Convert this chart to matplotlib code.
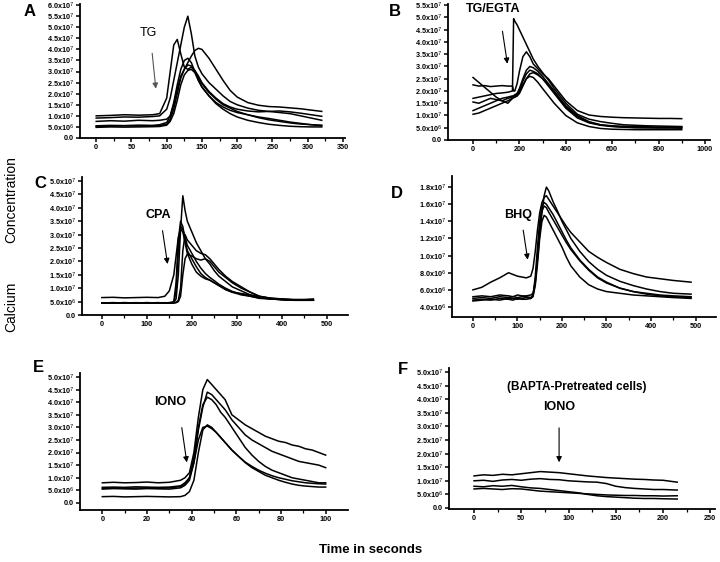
import numpy as np
import matplotlib
matplotlib.use("Agg")
import matplotlib.pyplot as plt
from matplotlib.ticker import FixedLocator, FuncFormatter

plt.rcParams['font.family'] = ['Liberation Sans', 'DejaVu Sans']

# values are in units of 1e7 (panel D in 1e6)
tA = [0, 20, 40, 60, 80, 90, 100, 105, 110, 115, 120, 125, 130, 135, 140, 145, 150,
      160, 170, 180, 190, 200, 215, 230, 245, 260, 275, 290, 305, 320]
a1 = [0.90, 0.92, 0.95, 0.94, 0.97, 1.00, 1.30, 1.80, 2.60, 3.40, 4.20, 5.00, 5.50, 4.70, 3.70,
      3.20, 2.90, 2.50, 2.20, 1.90, 1.65, 1.50, 1.35, 1.25, 1.20, 1.15, 1.10, 1.00, 0.90, 0.80]
a2 = [1.00, 1.02, 1.05, 1.03, 1.05, 1.10, 1.80, 3.00, 4.20, 4.45, 3.80, 3.20, 3.10, 3.20, 3.05,
      2.80, 2.50, 2.10, 1.80, 1.55, 1.40, 1.30, 1.22, 1.18, 1.20, 1.22, 1.18, 1.12, 1.05, 0.98]
a3 = [0.75, 0.78, 0.76, 0.80, 0.78, 0.80, 0.85, 1.00, 1.50, 2.20, 2.80, 3.10, 3.40, 3.70, 3.95,
      4.05, 4.00, 3.60, 3.10, 2.60, 2.15, 1.85, 1.60, 1.48, 1.42, 1.40, 1.36, 1.32, 1.26, 1.20]
a4 = [0.55, 0.57, 0.56, 0.58, 0.57, 0.60, 0.70, 1.00, 1.60, 2.40, 3.10, 3.50, 3.60, 3.40, 3.00,
      2.60, 2.30, 1.90, 1.60, 1.40, 1.25, 1.15, 1.05, 0.95, 0.88, 0.80, 0.72, 0.66, 0.60, 0.55]
a5 = [0.52, 0.53, 0.55, 0.54, 0.55, 0.56, 0.62, 0.85, 1.30, 2.00, 2.70, 3.10, 3.30, 3.25, 3.00,
      2.70, 2.45, 2.05, 1.75, 1.50, 1.35, 1.20, 1.05, 0.92, 0.82, 0.75, 0.68, 0.63, 0.60, 0.58]
a6 = [0.48, 0.50, 0.49, 0.50, 0.51, 0.52, 0.58, 0.75, 1.10, 1.70, 2.40, 2.85, 3.05, 3.10, 2.95,
      2.60, 2.30, 1.90, 1.55, 1.30, 1.10, 0.95, 0.80, 0.70, 0.62, 0.57, 0.53, 0.51, 0.50, 0.50]

tB = [0, 25, 50, 75, 100, 125, 150, 170, 175, 180, 190, 200, 215, 230, 245, 260, 280, 300,
      325, 350, 375, 400, 450, 500, 550, 600, 650, 700, 750, 800, 850, 900]
b1 = [1.70, 1.75, 1.80, 1.85, 1.90, 1.92, 1.95, 2.00, 4.95, 4.85, 4.70, 4.50, 4.20, 3.90, 3.60, 3.30,
      3.00, 2.75, 2.45, 2.10, 1.80, 1.50, 1.05, 0.85, 0.75, 0.68, 0.62, 0.60, 0.58, 0.57, 0.56, 0.55]
b2 = [2.25, 2.20, 2.22, 2.18, 2.20, 2.22, 2.20, 2.20, 2.00, 2.00, 2.30, 2.80, 3.40, 3.60, 3.40, 3.10,
      2.90, 2.70, 2.50, 2.20, 1.90, 1.60, 1.20, 1.02, 0.96, 0.93, 0.91, 0.90, 0.89, 0.88, 0.88, 0.87]
b3 = [2.55, 2.35, 2.15, 1.95, 1.75, 1.60, 1.50, 1.70, 1.80, 1.85, 1.90, 2.10, 2.50, 2.85, 3.00, 2.95,
      2.80, 2.60, 2.30, 2.00, 1.70, 1.40, 1.00, 0.75, 0.62, 0.56, 0.53, 0.51, 0.50, 0.50, 0.50, 0.50]
b4 = [1.20, 1.30, 1.40, 1.50, 1.60, 1.70, 1.75, 1.80, 1.80, 1.80, 1.85, 2.00, 2.40, 2.70, 2.85, 2.80,
      2.70, 2.50, 2.20, 1.90, 1.60, 1.30, 0.90, 0.70, 0.60, 0.55, 0.52, 0.50, 0.50, 0.49, 0.49, 0.48]
b5 = [1.55, 1.50, 1.60, 1.70, 1.65, 1.60, 1.70, 1.75, 1.75, 1.75, 1.80, 1.90, 2.20, 2.50, 2.70, 2.75,
      2.65, 2.50, 2.25, 1.95, 1.65, 1.35, 0.95, 0.72, 0.62, 0.58, 0.56, 0.55, 0.54, 0.53, 0.53, 0.53]
b6 = [1.05, 1.10, 1.20, 1.30, 1.40, 1.50, 1.60, 1.70, 1.72, 1.75, 1.80, 1.95, 2.25, 2.50, 2.60, 2.55,
      2.35, 2.10, 1.80, 1.50, 1.25, 1.00, 0.70, 0.55, 0.47, 0.44, 0.43, 0.42, 0.42, 0.42, 0.42, 0.42]

tC = [0, 25, 50, 75, 100, 125, 140, 150, 160, 165, 170, 175, 180, 185, 190, 200, 210, 220,
      230, 240, 250, 260, 275, 290, 310, 330, 350, 375, 400, 425, 450, 470]
c1 = [0.45, 0.45, 0.46, 0.45, 0.45, 0.46, 0.45, 0.45, 0.46, 0.60, 1.50, 3.20, 4.45, 3.90, 3.50, 3.10,
      2.70, 2.40, 2.10, 1.90, 1.65, 1.45, 1.25, 1.05, 0.90, 0.75, 0.65, 0.60, 0.58, 0.55, 0.55, 0.55]
c2 = [0.45, 0.46, 0.45, 0.45, 0.46, 0.45, 0.45, 0.46, 0.50, 1.20, 2.80, 3.50, 3.30, 2.80, 2.40, 2.10,
      1.80, 1.55, 1.40, 1.30, 1.20, 1.10, 0.95, 0.85, 0.75, 0.70, 0.62, 0.60, 0.57, 0.55, 0.55, 0.55]
c3 = [0.45, 0.45, 0.45, 0.46, 0.45, 0.45, 0.46, 0.45, 0.46, 0.90, 2.40, 3.30, 3.20, 2.90, 2.60, 2.30,
      2.00, 1.75, 1.55, 1.40, 1.28, 1.15, 1.00, 0.88, 0.78, 0.70, 0.64, 0.60, 0.57, 0.56, 0.55, 0.56]
c4 = [0.65, 0.66, 0.64, 0.65, 0.66, 0.65, 0.70, 0.90, 1.50, 2.20, 2.90, 3.20, 3.10, 2.70, 2.30, 1.90,
      1.60, 1.45, 1.35, 1.30, 1.20, 1.10, 0.95, 0.85, 0.80, 0.75, 0.68, 0.62, 0.60, 0.58, 0.58, 0.60]
c5 = [0.45, 0.45, 0.46, 0.45, 0.45, 0.46, 0.45, 0.45, 0.45, 0.46, 0.50, 0.70, 1.50, 2.10, 2.27, 2.20,
      2.10, 2.05, 2.10, 2.00, 1.80, 1.60, 1.40, 1.20, 1.00, 0.85, 0.70, 0.62, 0.58, 0.55, 0.55, 0.55]
c6 = [0.45, 0.46, 0.45, 0.45, 0.46, 0.45, 0.45, 0.46, 0.45, 0.47, 0.55, 1.00, 2.40, 3.00, 2.80, 2.60,
      2.40, 2.30, 2.25, 2.10, 1.90, 1.70, 1.45, 1.25, 1.05, 0.85, 0.70, 0.63, 0.60, 0.57, 0.56, 0.56]

tD = [0, 20, 40, 60, 80, 90, 100, 110, 120, 130, 135, 140, 145, 150, 155, 160, 165, 170,
      180, 190, 200, 210, 220, 240, 260, 280, 300, 330, 360, 390, 420, 450, 490]
d1 = [6.0, 6.3, 6.9, 7.4, 8.0, 7.8, 7.6, 7.5, 7.4, 7.6, 8.5, 10.5, 13.0, 15.0, 16.2, 16.8, 17.0,
      16.6, 15.8, 15.0, 14.2, 13.4, 12.7, 11.6, 10.5, 9.8, 9.2, 8.4, 7.9, 7.5, 7.3, 7.1, 6.9]
d2 = [5.2, 5.3, 5.2, 5.4, 5.3, 5.2, 5.4, 5.3, 5.3, 5.4, 5.6, 7.0, 9.5, 12.5, 15.0, 17.0, 18.0,
      17.6, 16.3, 15.2, 14.0, 13.0, 12.0, 10.5, 9.3, 8.4, 7.7, 7.0, 6.5, 6.1, 5.8, 5.6, 5.5]
d3 = [4.8, 4.9, 4.8, 5.0, 4.9, 4.8, 5.0, 4.9, 4.9, 5.0, 5.2, 6.5, 9.0, 12.0, 14.0, 14.7, 14.5,
      14.0, 13.0, 12.0, 11.0, 9.8, 8.8, 7.5, 6.6, 6.1, 5.8, 5.6, 5.4, 5.3, 5.2, 5.1, 5.0]
d4 = [4.7, 4.8, 4.9, 4.8, 5.0, 5.0, 4.9, 5.0, 5.1, 5.0, 5.3, 7.5, 11.0, 14.0, 15.8, 16.2, 16.0,
      15.6, 14.8, 13.8, 12.8, 11.8, 10.9, 9.5, 8.4, 7.5, 6.9, 6.2, 5.8, 5.5, 5.3, 5.2, 5.1]
d5 = [5.0, 5.1, 5.0, 5.2, 5.1, 5.2, 5.1, 5.2, 5.2, 5.1, 5.4, 6.8, 10.0, 13.2, 15.2, 15.8, 15.6,
      15.1, 14.2, 13.3, 12.4, 11.5, 10.7, 9.4, 8.3, 7.4, 6.8, 6.2, 5.8, 5.6, 5.4, 5.3, 5.2]

tE = [0, 5, 10, 15, 20, 25, 30, 35, 37, 39, 41, 43, 45, 47, 49, 51, 53, 55, 58, 61, 64, 67,
      70, 73, 76, 79, 82, 85, 88, 91, 94, 97, 100]
e1 = [0.80, 0.82, 0.80, 0.81, 0.83, 0.80, 0.82, 0.90, 1.00, 1.20, 2.00, 3.40, 4.50, 4.90, 4.70, 4.50, 4.30,
      4.10, 3.50, 3.30, 3.10, 2.95, 2.80, 2.65, 2.55, 2.45, 2.40, 2.30, 2.25, 2.15, 2.10, 2.00, 1.90]
e2 = [0.55, 0.57, 0.56, 0.55, 0.57, 0.56, 0.55, 0.60, 0.70, 0.90, 1.60, 2.90, 3.80, 4.40, 4.30, 4.10, 3.90,
      3.70, 3.30, 3.00, 2.70, 2.50, 2.35, 2.20, 2.05, 1.95, 1.85, 1.75, 1.65, 1.60, 1.55, 1.50, 1.40]
e3 = [0.58, 0.60, 0.58, 0.59, 0.60, 0.58, 0.60, 0.65, 0.75, 1.00, 1.80, 3.00, 3.90, 4.20, 4.10, 3.90, 3.60,
      3.40, 3.00, 2.60, 2.20, 1.90, 1.65, 1.45, 1.30, 1.20, 1.10, 1.00, 0.95, 0.90, 0.85, 0.80, 0.80]
e4 = [0.25, 0.26, 0.24, 0.25, 0.26, 0.25, 0.24, 0.25, 0.30, 0.45, 0.90, 2.00, 2.90, 3.10, 3.00, 2.80, 2.60,
      2.40, 2.10, 1.85, 1.60, 1.40, 1.25, 1.10, 1.00, 0.90, 0.82, 0.75, 0.70, 0.67, 0.65, 0.63, 0.63]
e5 = [0.62, 0.63, 0.62, 0.64, 0.63, 0.62, 0.63, 0.68, 0.80, 1.00, 1.60, 2.50, 3.00, 3.05, 2.95, 2.80, 2.60,
      2.40, 2.10, 1.85, 1.62, 1.45, 1.30, 1.18, 1.08, 1.00, 0.94, 0.88, 0.84, 0.80, 0.78, 0.76, 0.75]

tF = [0, 10, 20, 30, 40, 50, 60, 70, 80, 90, 100, 110, 120, 130, 140, 150, 160, 170, 180, 190, 200, 215]
f1 = [1.18, 1.22, 1.20, 1.24, 1.22, 1.26, 1.30, 1.34, 1.32, 1.30, 1.26, 1.22, 1.18, 1.15, 1.12, 1.10,
      1.08, 1.06, 1.05, 1.03, 1.02, 0.95]
f2 = [1.00, 1.02, 0.98, 1.03, 1.05, 1.02, 1.06, 1.08, 1.05, 1.04, 1.00, 0.98, 0.96, 0.95, 0.90, 0.80,
      0.75, 0.72, 0.70, 0.68, 0.68, 0.66]
f3 = [0.80, 0.78, 0.82, 0.80, 0.83, 0.78, 0.74, 0.72, 0.68, 0.64, 0.60, 0.56, 0.50, 0.45, 0.42, 0.40,
      0.38, 0.36, 0.35, 0.35, 0.34, 0.33]
f4 = [0.70, 0.72, 0.70, 0.68, 0.71, 0.70, 0.66, 0.62, 0.60, 0.58, 0.56, 0.54, 0.52, 0.50, 0.48, 0.47,
      0.46, 0.46, 0.45, 0.45, 0.44, 0.45]

# tick values
yticks_A = [i * 0.5e7 for i in range(13)]
yticks_B = [i * 0.5e7 for i in range(12)]
yticks_C = [i * 0.5e7 for i in range(11)]
yticks_D = [4e6, 6e6, 8e6, 1.0e7, 1.2e7, 1.4e7, 1.6e7, 1.8e7]
yticks_E = [i * 0.5e7 for i in range(11)]
yticks_F = [i * 0.5e7 for i in range(11)]
xticks_A = [0, 50, 100, 150, 200, 250, 300, 350]
xticks_B = [0, 200, 400, 600, 800, 1000]
xticks_C = [0, 100, 200, 300, 400, 500]
xticks_D = [0, 100, 200, 300, 400, 500]
xticks_E = [0, 20, 40, 60, 80, 100]
xticks_F = [0, 50, 100, 150, 200, 250]


def sci(v, pos=None):
    if v == 0:
        return "0.0"
    e = int(np.floor(np.log10(abs(v)) + 1e-9))
    m = v / 10 ** e
    return "%.1fx10$^{%d}$" % (m, e)


fig = plt.figure(figsize=(7.2, 5.62), dpi=100)


def px_axes(l, t, r, b):
    W, H = 720.0, 562.0
    return fig.add_axes([l / W, (H - b) / H, (r - l) / W, (b - t) / H])


def style(ax, xt, yt, xlim, ylim):
    ax.set_xlim(*xlim)
    ax.set_ylim(*ylim)
    for s in ['top', 'right']:
        ax.spines[s].set_visible(False)
    for s in ['left', 'bottom']:
        ax.spines[s].set_linewidth(1.3)
    ax.xaxis.set_major_locator(FixedLocator(xt))
    mids = [(xt[i] + xt[i + 1]) / 2 for i in range(len(xt) - 1)]
    ax.xaxis.set_minor_locator(FixedLocator(mids))
    ax.yaxis.set_major_locator(FixedLocator(yt))
    ax.yaxis.set_major_formatter(FuncFormatter(sci))
    ax.tick_params(which='major', direction='out', length=3, width=1.1,
                   labelsize=5.2, pad=1.5)
    ax.tick_params(which='minor', direction='out', length=2, width=0.9)
    for lab in ax.get_xticklabels() + ax.get_yticklabels():
        lab.set_fontweight('bold')


def traces(ax, t, series, scale, lw=1.1):
    for s in series:
        ax.plot(t, np.array(s) * scale, color='black', lw=lw)


arrow = dict(arrowstyle='-|>', color='black', lw=0.8, mutation_scale=8)

# A
axA = px_axes(80, 4, 345, 138)
traces(axA, tA, [a1, a2, a3, a4, a5, a6], 1e7)
style(axA, xticks_A, yticks_A, (-23, 353), (0, 6.05e7))
axA.annotate('', xy=(85, 2.1e7), xytext=(79, 3.95e7),
             arrowprops=dict(arrowstyle='-|>', color='#555555', lw=0.8, mutation_scale=8))
axA.text(74, 4.75e7, 'TG', fontsize=9, ha='center', va='center')

# B
axB = px_axes(448, 4, 710, 140)
traces(axB, tB, [b1, b2, b3, b4, b5, b6], 1e7)
style(axB, xticks_B, yticks_B, (-108, 1022), (0, 5.55e7))
axB.annotate('', xy=(150, 3.0e7), xytext=(125, 4.55e7), arrowprops=arrow)
axB.text(88, 5.35e7, 'TG/EGTA', fontsize=9, fontweight='bold', ha='center', va='center')

# C
axC = px_axes(82, 177, 348, 315)
traces(axC, tC, [c1, c2, c3, c4, c5, c6], 1e7)
style(axC, xticks_C, yticks_C, (-44, 547), (0, 5.15e7))
axC.annotate('', xy=(147, 1.8e7), xytext=(134, 3.25e7), arrowprops=arrow)
axC.text(126, 3.75e7, 'CPA', fontsize=9, fontweight='bold', ha='center', va='center')

# D
axD = px_axes(452, 176, 716, 317)
traces(axD, tD, [d1, d2, d3, d4, d5], 1e6)
style(axD, xticks_D, yticks_D, (-47, 546), (2.83e6, 1.93e7))
axD.annotate('', xy=(124, 9.2e6), xytext=(112, 1.33e7), arrowprops=arrow)
axD.text(101, 1.48e7, 'BHQ', fontsize=9, fontweight='bold', ha='center', va='center')

# E
axE = px_axes(80, 373, 348, 510)
traces(axE, tE, [e1, e2, e3, e4, e5], 1e7)
style(axE, xticks_E, yticks_E, (-10, 110), (-2.8e6, 5.16e7))
axE.annotate('', xy=(38, 1.5e7), xytext=(35.4, 3.1e7), arrowprops=arrow)
axE.text(30.5, 4.0e7, 'IONO', fontsize=9, fontweight='bold', ha='center', va='center')

# F
axF = px_axes(449, 368, 715, 509)
traces(axF, tF, [f1, f2, f3, f4], 1e7)
style(axF, xticks_F, yticks_F, (-26.5, 255), (-3.7e5, 5.15e7))
axF.annotate('', xy=(90, 1.58e7), xytext=(90, 3.05e7), arrowprops=arrow)
axF.text(90, 3.72e7, 'IONO', fontsize=9, fontweight='bold', ha='center', va='center')
axF.text(109, 4.45e7, '(BAPTA-Pretreated cells)', fontsize=8.5, fontweight='bold',
         ha='center', va='center')

# panel letters
for lab, x, y in [('A', 30, 12), ('B', 395, 11), ('C', 40, 183),
                  ('D', 397, 193), ('E', 38, 368), ('F', 403, 369)]:
    fig.text(x / 720, 1 - y / 562, lab, fontsize=12, fontweight='bold',
             ha='center', va='center')

fig.text(11 / 720, 1 - 200 / 562, 'Concentration', rotation=90, fontsize=10,
         ha='center', va='center')
fig.text(11 / 720, 1 - 307 / 562, 'Calcium', rotation=90, fontsize=10,
         ha='center', va='center')
fig.text(371 / 720, 1 - 550 / 562, 'Time in seconds', fontsize=9.5, fontweight='bold',
         ha='center', va='center')

fig.savefig('out.png', dpi=100)
